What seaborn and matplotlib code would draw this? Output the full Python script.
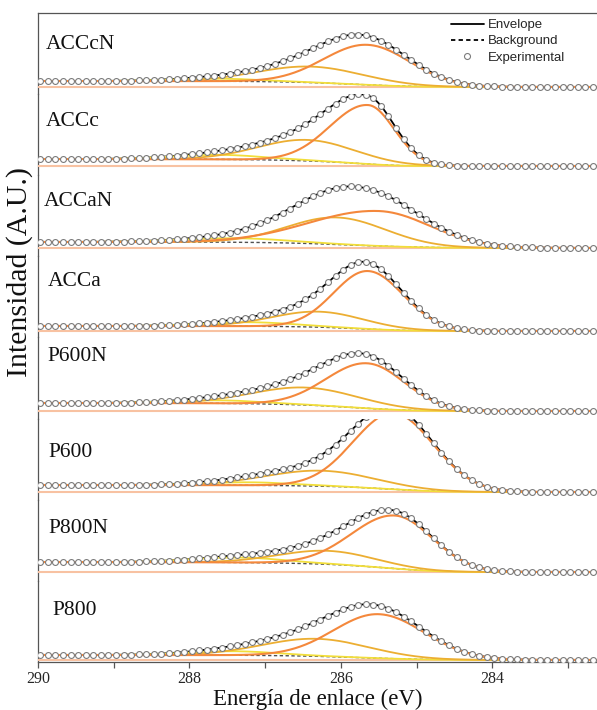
import numpy as np
import pandas as pd
import matplotlib
matplotlib.use("Agg")
import matplotlib.pyplot as plt
from matplotlib.lines import Line2D
from matplotlib.ticker import FixedLocator
import seaborn as sns

# ---- C 1s peak-fit results for each sample (binding energy in eV, intensity in a.u.) ----
samples = ["ACCcN", "ACCc", "ACCaN", "ACCa", "P600N", "P600", "P800N", "P800"]

# C-C / C=C main component (split Gaussian: high-BE and low-BE half widths)
main_center = [285.65, 285.64, 285.50, 285.64, 285.65, 285.30, 285.28, 285.50]
main_height = [40.0, 59.0, 35.0, 58.0, 45.0, 76.0, 53.0, 44.0]
main_sigma_hi = [0.57, 0.50, 0.90, 0.45, 0.54, 0.53, 0.57, 0.59]
main_sigma_lo = [0.57, 0.35, 0.69, 0.47, 0.50, 0.53, 0.50, 0.61]

# C-O component
co_center = [286.40, 286.45, 286.05, 286.30, 286.47, 286.27, 286.18, 286.33]
co_height = [16.0, 21.0, 27.0, 15.5, 17.5, 15.5, 13.5, 17.5]
co_sigma = [0.70, 0.64, 0.65, 0.60, 0.70, 0.72, 0.63, 0.70]

# C=O component
cdo_center = [287.60, 287.60, 287.40, 287.20, 287.60, 287.20, 287.35, 287.42]
cdo_height = [2.5, 4.5, 4.0, 4.0, 3.0, 3.0, 5.0, 4.0]
cdo_sigma = [0.60, 0.60, 0.70, 0.60, 0.60, 0.60, 0.60, 0.60]

# Shirley background: level on the low-BE side and total step
bg_level = [7.1, 9.2, 8.4, 6.5, 7.6, 7.7, 8.8, 2.0]
bg_step = [6.0, 7.0, 6.0, 5.0, 8.0, 7.0, 10.0, 5.0]

x_major = [290, 288, 286, 284]
x_minor = [289, 287, 285, 283]

# colours
c_main = "#F4883C"
c_co = "#ECAE32"
c_cdo = "#F2DE3A"
c_base = "#F8C2A2"
c_exp_edge = "#7C7C7C"

energy = np.linspace(282.4, 290.3, 800)                      # model curves
energy_exp = np.round(np.arange(289.97, 282.55, -0.1), 2)   # acquisition step 0.1 eV


def gauss(e, c, h, s):
    return h * np.exp(-0.5 * ((e - c) / s) ** 2)


def split_gauss(e, c, h, s_hi, s_lo):
    s = np.where(e >= c, s_hi, s_lo)
    return h * np.exp(-0.5 * ((e - c) / s) ** 2)


sns.set_theme(style="ticks")
plt.rcParams["font.family"] = ["Liberation Serif", "DejaVu Serif"]

fig = plt.figure(figsize=(5.97, 7.10), dpi=100)
axes = fig.subplots(len(samples), 1, sharex=True, gridspec_kw=dict(hspace=0))
fig.subplots_adjust(left=38 / 597, right=1.0, top=1 - 13 / 710, bottom=1 - 662 / 710)

dash = (0, (2.4, 1.8))

for i, (ax, name) in enumerate(zip(axes, samples)):
    g_main = split_gauss(energy, main_center[i], main_height[i], main_sigma_hi[i], main_sigma_lo[i])
    g_co = gauss(energy, co_center[i], co_height[i], co_sigma[i])
    g_cdo = gauss(energy, cdo_center[i], cdo_height[i], cdo_sigma[i])
    total = g_main + g_co + g_cdo
    cum = np.concatenate([[0.0], np.cumsum(0.5 * (total[1:] + total[:-1]) * np.diff(energy))])
    bg = bg_level[i] + bg_step[i] * cum / cum[-1]
    env = bg + total
    exp_pts = np.interp(energy_exp, energy, env)

    df = pd.DataFrame({
        "E": energy,
        "bg": bg,
        "base": np.full_like(energy, bg_level[i]),
        "main": bg + g_main,
        "co": bg + g_co,
        "cdo": bg + g_cdo,
        "env": env,
    })

    sns.lineplot(data=df, x="E", y="bg", ax=ax, color="#505050", lw=1.0, linestyle=dash, zorder=1)
    sns.lineplot(data=df, x="E", y="env", ax=ax, color="black", lw=1.3, zorder=2)
    sns.lineplot(data=df, x="E", y="base", ax=ax, color=c_base, lw=1.5, zorder=3)
    sns.lineplot(data=df, x="E", y="cdo", ax=ax, color=c_cdo, lw=1.3, zorder=4)
    sns.lineplot(data=df, x="E", y="co", ax=ax, color=c_co, lw=1.3, zorder=5)
    sns.lineplot(data=df, x="E", y="main", ax=ax, color=c_main, lw=1.5, zorder=6)
    sns.scatterplot(x=energy_exp, y=exp_pts, ax=ax, marker="o", s=18, facecolor="white",
                    edgecolor=c_exp_edge, linewidth=0.8, zorder=7)

    ax.set_xlim(290, 290 - 559 / 75.7)
    ax.set_ylim(0, 81.1)
    ax.set_yticks([])
    ax.set_ylabel("")
    ax.set_xlabel("")
    ax.spines["right"].set_visible(False)
    ax.spines["top"].set_visible(i == 0)
    ax.spines["bottom"].set_visible(i == len(samples) - 1)
    for sp in ax.spines.values():
        sp.set_color("#555555")
        sp.set_linewidth(0.9)
    ax.patch.set_alpha(0)
    if i < len(samples) - 1:
        ax.tick_params(axis="x", which="both", bottom=False, labelbottom=False)

bottom_ax = axes[-1]
bottom_ax.xaxis.set_major_locator(FixedLocator(x_major))
bottom_ax.xaxis.set_minor_locator(FixedLocator(x_minor))
bottom_ax.set_xticklabels([str(v) for v in x_major])
bottom_ax.tick_params(axis="x", which="major", direction="out", length=4, width=0.9,
                      color="#555555", labelsize=11.5, pad=2.5)
bottom_ax.tick_params(axis="x", which="minor", direction="out", length=4, width=0.9,
                      color="#555555")

# sample names
label_pos = [(46, 49.3), (46, 126), (44, 206), (48, 286), (47, 361), (48, 457), (48, 533), (52, 615)]
for name, (px, py) in zip(samples, label_pos):
    fig.text(px / 597, 1 - py / 710, name, ha="left", va="baseline", fontsize=15.5,
             color="#111111")

fig.text(20 / 597, 1 - 272 / 710, "Intensidad (A.U.)", rotation=90, ha="center", va="center",
         fontsize=21.5, color="#111111")
fig.text(318 / 597, 1 - 705.5 / 710, "Energía de enlace (eV)", ha="center", va="baseline",
         fontsize=16.5, color="#111111")

handles = [
    Line2D([], [], color="black", lw=1.3),
    Line2D([], [], color="black", lw=1.3, linestyle=dash),
    Line2D([], [], linestyle="none", marker="o", markersize=4.3, markerfacecolor="white",
           markeredgecolor=c_exp_edge, markeredgewidth=0.8),
]
fig.legend(handles, ["Envelope", "Background", "Experimental"], loc="upper left",
           bbox_to_anchor=(451 / 597, 1 - 19 / 710), frameon=False,
           prop=dict(family="Liberation Sans", size=9.5), handlelength=2.5,
           handletextpad=0.3, labelspacing=0.3, borderpad=0, borderaxespad=0)

fig.savefig("out.png", dpi=100)
